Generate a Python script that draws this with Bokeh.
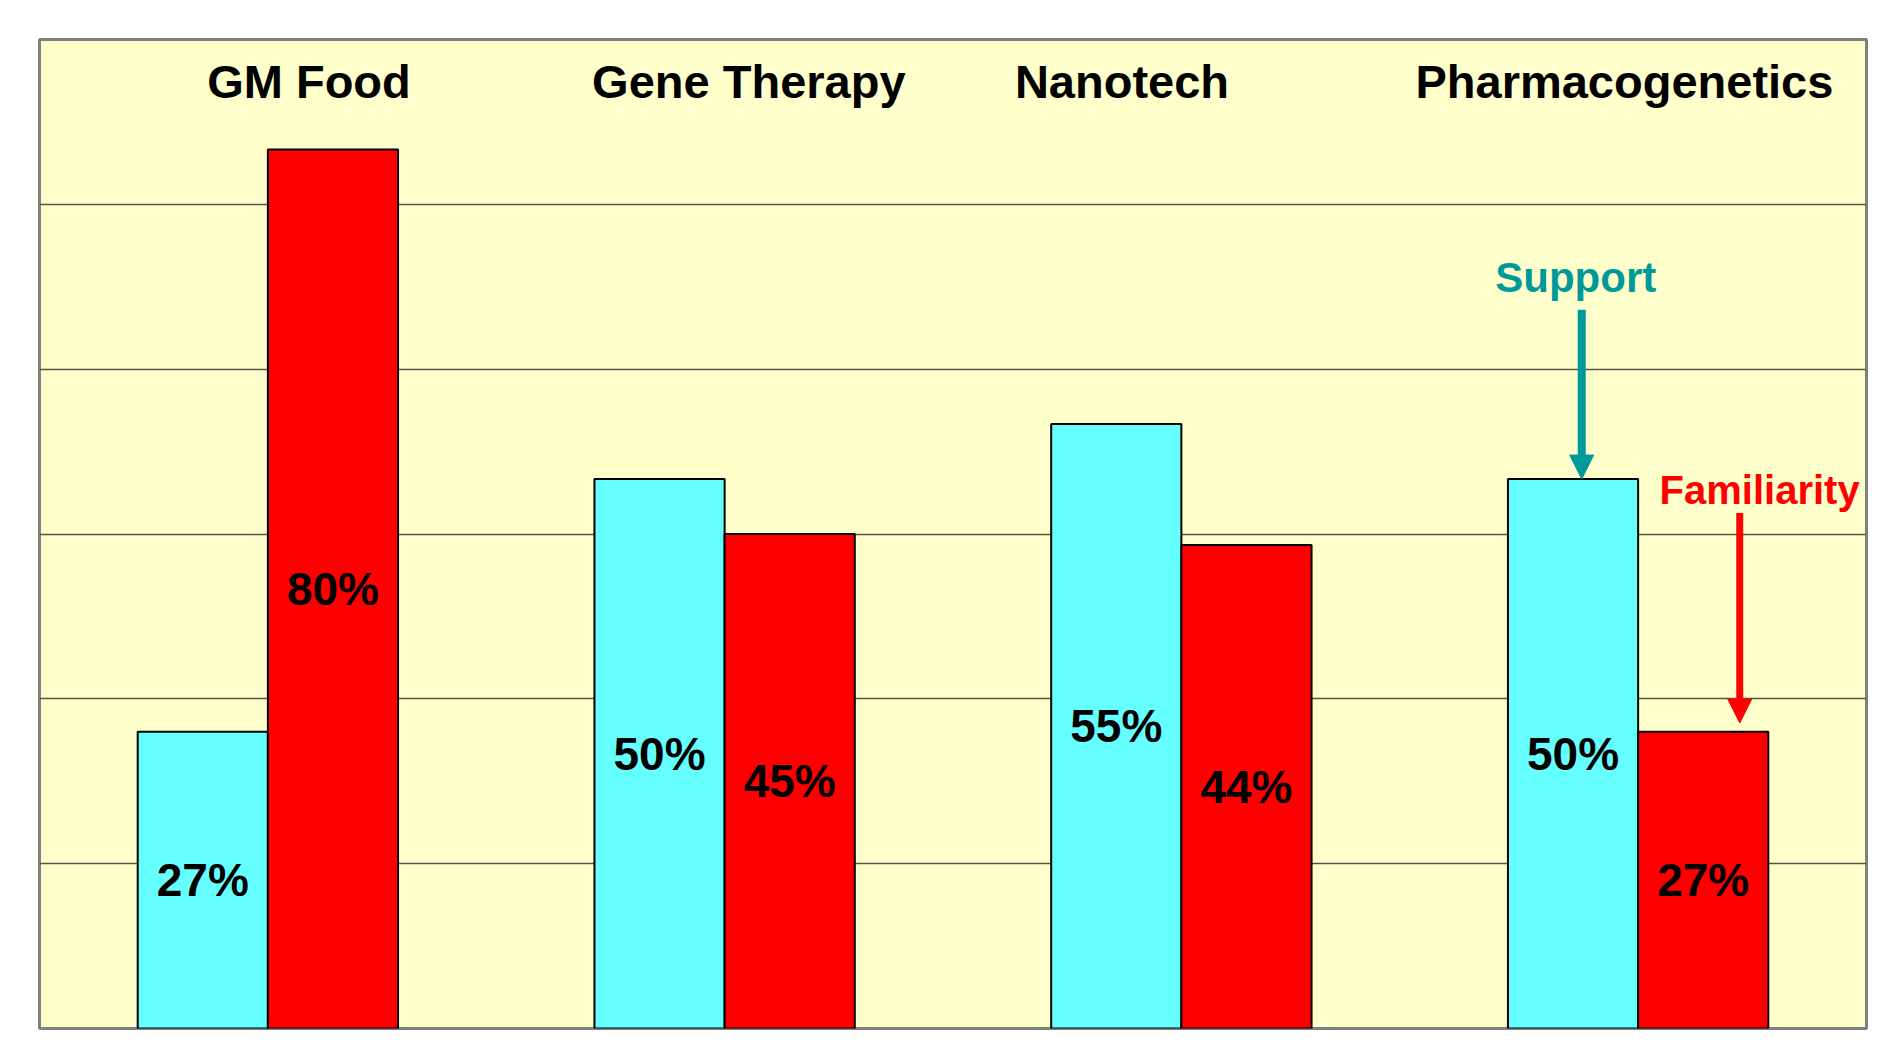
import numpy as np
from bokeh.plotting import figure
from bokeh.models import Range1d, ColumnDataSource, Grid, FixedTicker, Label, Arrow, NormalHead
from bokeh.core.properties import value
from bokeh.embed import file_html
from bokeh.resources import INLINE

# ---- data ----
categories = ["GM Food", "Gene Therapy", "Nanotech", "Pharmacogenetics"]
support = [27, 50, 55, 50]
familiarity = [80, 45, 44, 27]
grid_ticks = [15, 30, 45, 60, 75]

# ---- style / layout ----
CYAN = "#66FFFF"
RED = "#FF0000"
TEAL = "#009999"
BG = "#FFFFCC"
FONT = "Liberation Sans"
BAR_W = 0.285
OFF = 0.1425
TITLE_NUDGE = [0.09, 0.053, -0.13, -0.03]

W, H = 1878, 1052
p = figure(width=W, height=H, output_backend="svg", toolbar_location=None,
           x_range=Range1d(0, len(categories)), y_range=Range1d(0, 90),
           x_axis_location=None, y_axis_location=None,
           min_border_left=39, min_border_top=39, min_border_right=12, min_border_bottom=24,
           background_fill_color=BG, border_fill_color="white",
           outline_line_color="#808080", outline_line_width=3)
p.grid.visible = False
p.add_layout(Grid(dimension=1, ticker=FixedTicker(ticks=grid_ticks),
                  grid_line_color="#555544", grid_line_width=1.5))

centers = np.arange(len(categories)) + 0.5
src = ColumnDataSource(dict(
    xs=centers - OFF, xf=centers + OFF,
    s=support, f=familiarity,
    sh=[v / 2 for v in support], fh=[v / 2 for v in familiarity],
    sl=[f"{v}%" for v in support], fl=[f"{v}%" for v in familiarity],
))

p.vbar(x="xs", top="s", width=BAR_W, bottom=0, source=src,
       fill_color=CYAN, line_color="black", line_width=2)
p.vbar(x="xf", top="f", width=BAR_W, bottom=0, source=src,
       fill_color=RED, line_color="black", line_width=2)

for col_x, col_y, col_t in [("xs", "sh", "sl"), ("xf", "fh", "fl")]:
    p.text(x=col_x, y=col_y, text=col_t, source=src,
           text_font=value(FONT), text_font_style="bold", text_font_size="46px",
           text_align="center", text_baseline="middle", text_color="black")

# category titles at the top
for i, name in enumerate(categories):
    p.add_layout(Label(x=centers[i] + TITLE_NUDGE[i], y=86.2, text=name,
                       text_font=FONT, text_font_style="bold", text_font_size="47px",
                       text_align="center", text_baseline="middle", text_color="black"))

# annotations: Support / Familiarity arrows
sx = centers[3] - OFF + 0.019
p.add_layout(Label(x=sx - 0.013, y=68.3, text="Support", text_font=FONT,
                   text_font_style="bold", text_font_size="42px",
                   text_align="center", text_baseline="middle", text_color=TEAL))
p.add_layout(Arrow(x_start=sx, y_start=65.4, x_end=sx, y_end=support[3],
                   line_color=TEAL, line_width=8,
                   end=NormalHead(size=24, fill_color=TEAL, line_color=TEAL)))

fx = centers[3] + OFF + 0.08
p.add_layout(Label(x=3.547, y=49.0, text="Familiarity", text_font=FONT,
                   text_font_style="bold", text_font_size="40px",
                   text_align="left", text_baseline="middle", text_color=RED))
p.add_layout(Arrow(x_start=fx, y_start=46.9, x_end=fx, y_end=familiarity[3] + 0.8,
                   line_color=RED, line_width=7,
                   end=NormalHead(size=24, fill_color=RED, line_color=RED)))

open("out.html", "w").write(file_html(p, INLINE))
